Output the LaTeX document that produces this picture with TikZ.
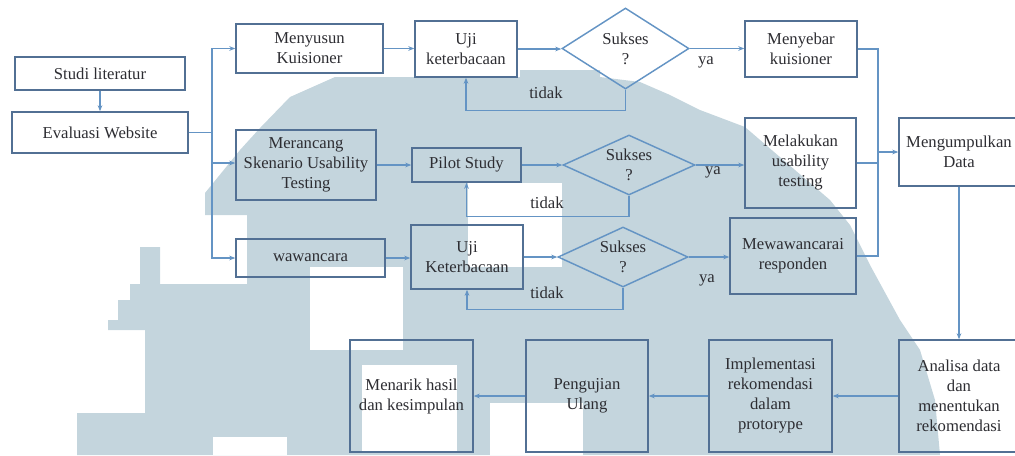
\documentclass[tikz,border=0pt]{standalone}
\usepackage{fontspec}
\setmainfont{Liberation Serif}
\usetikzlibrary{shapes.geometric,arrows.meta}
\definecolor{wm}{RGB}{196,213,221}
\definecolor{bord}{RGB}{82,112,148}
\definecolor{conn}{RGB}{100,148,196}
\definecolor{txt}{RGB}{45,45,50}
\begin{document}
\begin{tikzpicture}[x=0.75pt,y=-0.75pt,
  every node/.style={font=\fontsize{12.5}{15}\selectfont, text=txt},
  box/.style={draw=bord, line width=1.1pt, align=center, inner sep=1pt},
  dia/.style={diamond, draw=conn, line width=1.1pt, align=center, inner sep=0pt},
  conline/.style={draw=conn, line width=1.1pt},
  arr/.style={conline, -{Stealth[length=4.5pt,width=3.5pt]}},
  lbl/.style={inner sep=1pt}]
\useasboundingbox (0,0) rectangle (1015,455);
% watermark
\fill[wm] (205,193) -- (240,150) -- (260,128) -- (290,97) -- (335,77) -- (520,77) -- (520,70) -- (600,70) -- (600,77) -- (640,82) -- (670,95) -- (700,110) -- (745,127) -- (795,170) -- (830,200) -- (850,225) -- (870,265) -- (900,320) -- (920,350) -- (935,400) -- (940,455) -- (77,455) -- (77,413) -- (145,413) -- (145,330) -- (108,330) -- (108,320) -- (118,320) -- (118,300) -- (130,300) -- (130,284) -- (140,284) -- (140,247) -- (160,247) -- (160,284) -- (247,284) -- (247,215) -- (205,215) -- cycle;
\fill[white] (310,267) rectangle (403,350);
\fill[white] (468,183) rectangle (562,267);
\fill[white] (362,365) rectangle (457,452);
\fill[white] (490,403) rectangle (583,455);
\fill[white] (213,437) rectangle (287,455);
% nodes
\node[box, minimum width=127.5pt, minimum height=24.75pt] (studi) at (100,73.5) {Studi literatur};
\node[box, minimum width=132pt, minimum height=30.75pt] (eval) at (100,132.5) {Evaluasi Website};
\node[box, minimum width=110.25pt, minimum height=36.75pt] (menyusun) at (309.5,48.5) {Menyusun\\Kuisioner};
\node[box, minimum width=105pt, minimum height=52.5pt] (merancang) at (306,165) {Merancang\\Skenario Usability\\Testing};
\node[box, minimum width=111.75pt, minimum height=28.5pt] (wawancara) at (310.5,258) {wawancara};
\node[box, minimum width=76.5pt, minimum height=42pt] (uji1) at (466,49) {Uji\\keterbacaan};
\node[dia, aspect=1.57, minimum width=95.25pt, minimum height=60.75pt] (d1) at (625.5,48.5) {Sukses\\?};
\node[box, minimum width=84pt, minimum height=42pt] (menyebar) at (801,49) {Menyebar\\kuisioner};
\node[box, minimum width=81.75pt, minimum height=25.5pt] (pilot) at (466.5,165) {Pilot Study};
\node[dia, aspect=2.2, minimum width=99pt, minimum height=45pt] (d2) at (629,165) {Sukses\\?};
\node[box, minimum width=83.25pt, minimum height=67.5pt] (melakukan) at (800.5,163) {Melakukan\\usability\\testing};
\node[box, minimum width=84pt, minimum height=48pt] (uji2) at (467,257) {Uji\\Keterbacaan};
\node[dia, aspect=2.2, minimum width=97.5pt, minimum height=45pt] (d3) at (623,257) {Sukses\\?};
\node[box, minimum width=94.5pt, minimum height=57pt] (mewa) at (793,256) {Mewawancarai\\responden};
\node[box, minimum width=90pt, minimum height=51pt] (kumpul) at (959,152) {Mengumpulkan\\Data};
\node[box, minimum width=90pt, minimum height=84pt] (analisa) at (959,396) {Analisa data\\dan\\menentukan\\rekomendasi};
\node[box, minimum width=92.25pt, minimum height=84pt] (impl) at (770.5,396) {Implementasi\\rekomendasi\\dalam\\protorype};
\node[box, minimum width=91.5pt, minimum height=84pt] (uji3) at (587,396) {Pengujian\\Ulang};
\node[box, minimum width=92.25pt, minimum height=84pt] (menarik) at (411.5,396) {Menarik hasil\\dan kesimpulan};
% labels
\node[lbl] (ya1) at (706,62) {ya};
\node[lbl] (ya2) at (713,172) {ya};
\node[lbl] (ya3) at (707,280) {ya};
\node[lbl] (t1) at (546,93) {tidak};
\node[lbl] (t2) at (547,203) {tidak};
\node[lbl] (t3) at (547,293) {tidak};
% coordinates
\coordinate (tx) at (212,0);
\coordinate (cx) at (878,0);
% connectors
\draw[arr] (studi) -- (eval);
\draw[conline] (eval.east) -- (eval.east -| tx);
\draw[arr] (eval.east -| tx) |- (menyusun.west);
\draw[arr] (eval.east -| tx) |- ([yshift=1.5pt]merancang.west);
\draw[arr] (eval.east -| tx) |- (wawancara.west);
\draw[arr] (menyusun.east) -- (menyusun.east -| uji1.west);
\draw[arr] (uji1.east) -- (uji1.east -| d1.west);
\draw[arr] (d1.east) -- (d1.east -| menyebar.west);
\draw[arr] (d1.south) -- ++(0,21) -| (uji1.south);
\draw[arr] (merancang.east) -- (merancang.east -| pilot.west);
\draw[arr] (pilot.east) -- (pilot.east -| d2.west);
\draw[arr] (d2.east) -- (d2.east -| melakukan.west);
\draw[arr] (d2.south) -- ++(0,21) -| (pilot.south);
\draw[arr] (wawancara.east) -- (wawancara.east -| uji2.west);
\draw[arr] (uji2.east) -- (uji2.east -| d3.west);
\draw[arr] (d3.east) -- (d3.east -| mewa.west);
\draw[arr] (d3.south) -- ++(0,22) -| (uji2.south);
\draw[conline] (menyebar.east) -- (menyebar.east -| cx) -- (mewa.east -| cx) -- (mewa.east);
\draw[conline] (melakukan.east) -- (melakukan.east -| cx);
\draw[arr] (kumpul.west -| cx) -- (kumpul.west);
\draw[arr] (kumpul.south) -- (analisa.north);
\draw[arr] (analisa.west) -- (impl.east);
\draw[arr] (impl.west) -- (uji3.east);
\draw[arr] (uji3.west) -- (menarik.east);
\end{tikzpicture}
\end{document}
